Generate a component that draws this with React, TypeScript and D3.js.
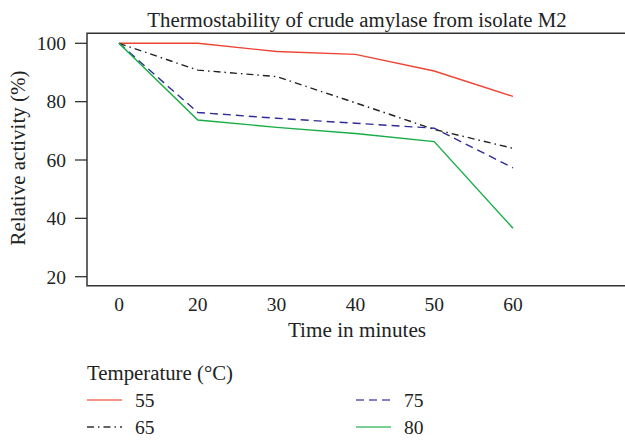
import React, { useEffect, useRef } from 'react'
import * as d3 from 'd3'

const times = ['0', '20', '30', '40', '50', '60']
const yTicks = [20, 40, 60, 80, 100]
const temp55 = [100, 100, 97.2, 96.2, 90.5, 81.8]
const temp65 = [100, 90.8, 88.6, 79.6, 70.5, 64]
const temp75 = [100, 76.3, 74.3, 72.6, 70.9, 57.3]
const temp80 = [100, 73.7, 71.2, 69.1, 66.3, 36.6]

const series = [
	{ name: '55', values: temp55, color: '#ee4433', legendColor: '#f0705f', dash: null },
	{ name: '65', values: temp65, color: '#222222', legendColor: '#333333', dash: '7,4,1.5,4' },
	{ name: '75', values: temp75, color: '#2e2e96', legendColor: '#5a5ab0', dash: '8,5' },
	{ name: '80', values: temp80, color: '#17ad45', legendColor: '#4cc070', dash: null },
]

const WIDTH = 625
const HEIGHT = 440
const FONT = '"Liberation Serif", "DejaVu Serif", serif'

export default function App() {
	const svgRef = useRef<SVGSVGElement>(null)

	useEffect(() => {
		const svg = d3.select(svgRef.current)
		svg.selectAll('*').remove()

		const left = 87
		const top = 33.3
		const bottom = 285.7

		const x = d3.scalePoint<string>().domain(times).range([119, 513])
		const y = d3.scaleLinear().domain([20, 100]).range([276.7, 43.3])

		const addText = (sel: any, size: number) =>
			sel.style('font-family', FONT).style('font-size', size + 'px').attr('fill', '#222')

		// title
		addText(svg.append('text'), 20.8)
			.attr('x', 357)
			.attr('y', 27)
			.attr('text-anchor', 'middle')
			.text('Thermostability of crude amylase from isolate M2')

		// frame (right side runs off the picture)
		svg.append('path')
			.attr('d', `M${WIDTH + 5},${top}H${left}V${bottom}H${WIDTH + 5}`)
			.attr('fill', 'none')
			.attr('stroke', '#333')
			.attr('stroke-width', 1.5)

		// y axis
		const yAxis = svg.append('g')
		yAxis.selectAll('line')
			.data(yTicks)
			.enter()
			.append('line')
			.attr('x1', left - 12)
			.attr('x2', left)
			.attr('y1', (d) => y(d))
			.attr('y2', (d) => y(d))
			.attr('stroke', '#333')
			.attr('stroke-width', 1.3)
		addText(yAxis.selectAll('text')
			.data(yTicks)
			.enter()
			.append('text'), 19.5)
			.attr('x', left - 21)
			.attr('y', (d: number) => y(d))
			.attr('dy', '0.35em')
			.attr('text-anchor', 'end')
			.text((d: number) => d)

		// x axis labels
		addText(svg.append('g')
			.selectAll('text')
			.data(times)
			.enter()
			.append('text'), 19.5)
			.attr('x', (d: string) => x(d) as number)
			.attr('y', 311)
			.attr('text-anchor', 'middle')
			.text((d: string) => d)

		addText(svg.append('text'), 21.2)
			.attr('x', 357)
			.attr('y', 337)
			.attr('text-anchor', 'middle')
			.text('Time in minutes')

		addText(svg.append('text'), 21)
			.attr('transform', 'translate(25,158) rotate(-90)')
			.attr('text-anchor', 'middle')
			.text('Relative activity (%)')

		// lines
		const line = d3.line<number>()
			.x((d, i) => x(times[i]) as number)
			.y((d) => y(d))

		series.forEach((s) => {
			svg.append('path')
				.datum(s.values)
				.attr('fill', 'none')
				.attr('stroke', s.color)
				.attr('stroke-width', 1.4)
				.attr('stroke-dasharray', s.dash)
				.attr('d', line)
		})

		// legend
		const legend = svg.append('g')
		addText(legend.append('text'), 20.8)
			.attr('x', 87)
			.attr('y', 380)
			.text('Temperature (°C)')

		series.forEach((s, i) => {
			const lx = i < 2 ? 87 : 356
			const ly = i % 2 === 0 ? 400 : 427
			legend.append('line')
				.attr('x1', lx)
				.attr('x2', lx + 35)
				.attr('y1', ly)
				.attr('y2', ly)
				.attr('stroke', s.legendColor)
				.attr('stroke-width', 1.6)
				.attr('stroke-dasharray', s.dash)
			addText(legend.append('text'), 19.5)
				.attr('x', lx + 48)
				.attr('y', ly)
				.attr('dy', '0.35em')
				.text(s.name)
		})
	}, [])

	return (
		<svg
			ref={svgRef}
			width={WIDTH}
			height={HEIGHT}
			style={{ position: 'absolute', left: 0, top: 0, background: '#fff' }}
		/>
	)
}
